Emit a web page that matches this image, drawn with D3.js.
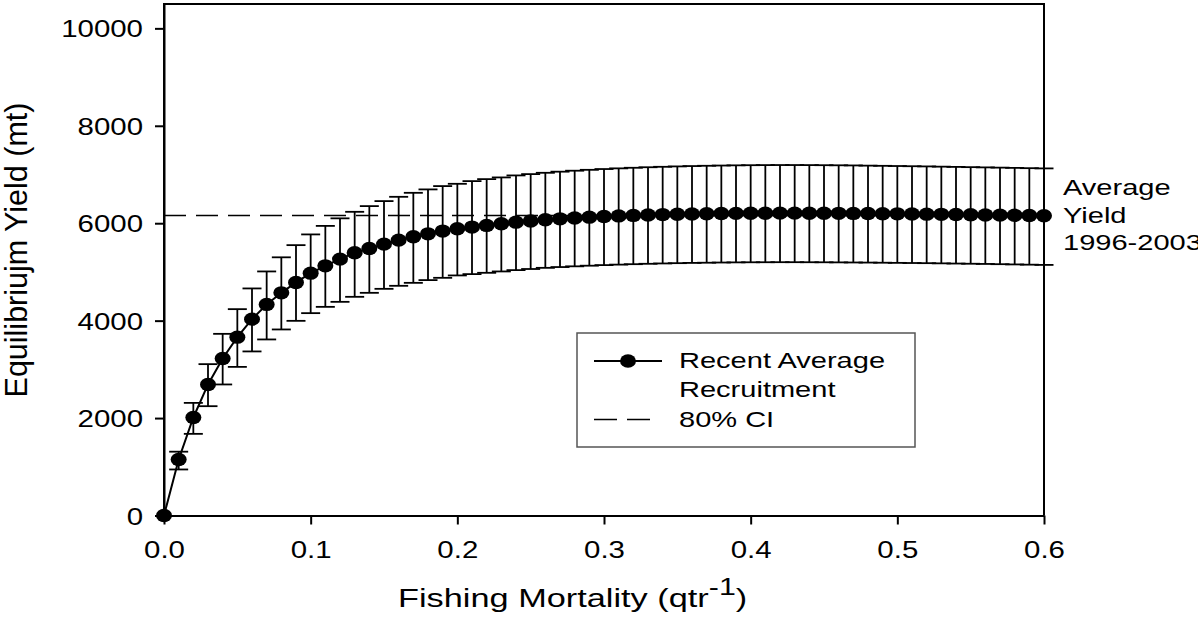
<!DOCTYPE html>
<html>
<head>
<meta charset="utf-8">
<script src="https://cdn.jsdelivr.net/npm/d3@7"></script>
<style>
  html, body { margin: 0; background: #fff; }
  svg { display: block; font-family: "Liberation Sans", Arial, sans-serif; }
</style>
</head>
<body>
<svg id="chart" width="1198" height="628"></svg>
<script>
// values
const fishingMortality = [
  0.00, 0.01, 0.02, 0.03, 0.04, 0.05, 0.06, 0.07, 0.08, 0.09,
  0.10, 0.11, 0.12, 0.13, 0.14, 0.15, 0.16, 0.17, 0.18, 0.19,
  0.20, 0.21, 0.22, 0.23, 0.24, 0.25, 0.26, 0.27, 0.28, 0.29,
  0.30, 0.31, 0.32, 0.33, 0.34, 0.35, 0.36, 0.37, 0.38, 0.39,
  0.40, 0.41, 0.42, 0.43, 0.44, 0.45, 0.46, 0.47, 0.48, 0.49,
  0.50, 0.51, 0.52, 0.53, 0.54, 0.55, 0.56, 0.57, 0.58, 0.59,
  0.60
];
const yieldMean = [
  0, 1150, 2012, 2690, 3224, 3661, 4031, 4333, 4571, 4784,
  4975, 5125, 5263, 5395, 5482, 5571, 5653, 5721, 5782, 5838,
  5885, 5920, 5955, 5988, 6022, 6045, 6070, 6090, 6108, 6124,
  6138, 6150, 6160, 6169, 6177, 6184, 6190, 6195, 6199, 6202,
  6204, 6206, 6207, 6207, 6206, 6205, 6203, 6201, 6198, 6195,
  6192, 6189, 6186, 6182, 6178, 6174, 6170, 6166, 6162, 6157,
  6152
];
const yieldUpper = [
  0, 1310, 2312, 3107, 3729, 4236, 4661, 5010, 5300, 5550,
  5770, 5945, 6100, 6234, 6351, 6454, 6542, 6624, 6694, 6762,
  6809, 6864, 6905, 6940, 6981, 7008, 7035, 7058, 7078, 7096,
  7112, 7126, 7138, 7149, 7158, 7166, 7173, 7179, 7184, 7188,
  7191, 7193, 7194, 7194, 7193, 7191, 7189, 7186, 7182, 7178,
  7174, 7170, 7166, 7161, 7156, 7151, 7146, 7141, 7136, 7130,
  7125
];
const yieldLower = [
  0, 945, 1676, 2244, 2690, 3051, 3368, 3614, 3819, 3996,
  4154, 4283, 4386, 4489, 4571, 4653, 4715, 4776, 4832, 4879,
  4928, 4955, 4982, 5010, 5037, 5060, 5084, 5100, 5115, 5128,
  5140, 5150, 5159, 5167, 5174, 5180, 5185, 5189, 5193, 5196,
  5198, 5199, 5200, 5200, 5199, 5198, 5196, 5194, 5192, 5189,
  5186, 5183, 5180, 5176, 5172, 5168, 5164, 5159, 5154, 5149,
  5144
];
const averageYield = 6160;
const xTicks = [0, 0.1, 0.2, 0.3, 0.4, 0.5, 0.6];
const yTicks = [0, 2000, 4000, 6000, 8000, 10000];
const annotationLines = ["Average", "Yield", "1996-2003"];
const legendLabels = ["Recent Average", "Recruitment", "80% CI"];

const SX = 1.32; // the reference text is drawn wide
const svg = d3.select("#chart");

const x = d3.scaleLinear().domain([0, 0.6]).range([164, 1044]);
const y = d3.scaleLinear().domain([0, 10500]).range([515.5, 4]);

const points = fishingMortality.map((f, i) => ({
  f, mean: yieldMean[i], hi: yieldUpper[i], lo: yieldLower[i]
}));

function wideText(g, px, py, str, size, sx = SX) {
  return g.append("text")
    .attr("transform", `translate(${px},${py}) scale(${sx},1)`)
    .attr("font-size", size)
    .attr("fill", "#000")
    .text(str);
}

// frame
svg.append("path")
  .attr("d", `M${x(0)},${y(0)}V${y(10500)}H${x(0.6)}V${y(0)}`)
  .attr("fill", "none").attr("stroke", "#000").attr("stroke-width", 2);

// axes
const xAxis = svg.append("g")
  .attr("transform", `translate(0,${y(0)})`)
  .call(d3.axisBottom(x).tickValues(xTicks).tickFormat(d3.format(".1f")).tickSize(9).tickSizeOuter(0));
const yAxis = svg.append("g")
  .attr("transform", `translate(${x(0)},0)`)
  .call(d3.axisLeft(y).tickValues(yTicks).tickFormat(d3.format("d")).tickSize(9).tickSizeOuter(0));

[xAxis, yAxis].forEach((g) => {
  g.select(".domain").attr("stroke-width", 2);
  g.selectAll(".tick line").attr("stroke-width", 2);
  g.selectAll("text").attr("font-size", 23).attr("fill", "#000")
    .attr("font-family", "Liberation Sans, Arial, sans-serif");
});
xAxis.selectAll("text").attr("y", 0).attr("dy", null)
  .attr("transform", `translate(0,42) scale(1.28,1)`);
yAxis.selectAll("text").attr("x", 0).attr("dy", null)
  .attr("transform", `translate(-21,8.5) scale(1.28,1)`);

// average yield line
svg.append("line")
  .attr("x1", x(0)).attr("x2", x(0.6))
  .attr("y1", y(averageYield)).attr("y2", y(averageYield))
  .attr("stroke", "#000").attr("stroke-width", 1.5)
  .attr("stroke-dasharray", "22,10");

// error bars
const bars = svg.append("g").attr("stroke", "#000").attr("stroke-width", 1.8);
const withCI = points.filter((d) => d.hi > d.lo);
bars.selectAll("line.v").data(withCI).join("line").attr("class", "v")
  .attr("x1", (d) => x(d.f)).attr("x2", (d) => x(d.f))
  .attr("y1", (d) => y(d.hi)).attr("y2", (d) => y(d.lo));
bars.selectAll("line.cap-hi").data(withCI).join("line").attr("class", "cap-hi")
  .attr("x1", (d) => x(d.f) - 9.5).attr("x2", (d) => x(d.f) + 9.5)
  .attr("y1", (d) => y(d.hi)).attr("y2", (d) => y(d.hi));
bars.selectAll("line.cap-lo").data(withCI).join("line").attr("class", "cap-lo")
  .attr("x1", (d) => x(d.f) - 9.5).attr("x2", (d) => x(d.f) + 9.5)
  .attr("y1", (d) => y(d.lo)).attr("y2", (d) => y(d.lo));

// curve and points
svg.append("path")
  .datum(points)
  .attr("d", d3.line().x((d) => x(d.f)).y((d) => y(d.mean)))
  .attr("fill", "none").attr("stroke", "#000").attr("stroke-width", 2);
svg.append("g").selectAll("ellipse").data(points).join("ellipse")
  .attr("cx", (d) => x(d.f)).attr("cy", (d) => y(d.mean))
  .attr("rx", 8).attr("ry", 6.7).attr("fill", "#000");

// legend
const legend = svg.append("g");
legend.append("rect")
  .attr("x", 577).attr("y", 333).attr("width", 338).attr("height", 114)
  .attr("fill", "#fff").attr("stroke", "#555").attr("stroke-width", 1.5);
legend.append("line").attr("x1", 594).attr("x2", 662).attr("y1", 361).attr("y2", 361)
  .attr("stroke", "#000").attr("stroke-width", 2);
legend.append("ellipse").attr("cx", 628).attr("cy", 361).attr("rx", 8).attr("ry", 6.7).attr("fill", "#000");
legend.append("line").attr("x1", 594).attr("x2", 650).attr("y1", 419.5).attr("y2", 419.5)
  .attr("stroke", "#000").attr("stroke-width", 1.5).attr("stroke-dasharray", "23,10");
wideText(legend, 679, 368, legendLabels[0], 22);
wideText(legend, 679, 397, legendLabels[1], 22);
wideText(legend, 679, 427, legendLabels[2], 22);

// annotation on the right (the reference clips the last line at the edge)
annotationLines.forEach((t, i) => wideText(svg, 1063, 195 + i * 27.7, t, 22));

// axis titles
const xt = wideText(svg, 398, 607, "Fishing Mortality (qtr", 26);
xt.append("tspan").attr("dy", -12).attr("font-size", 23).text("-1");
xt.append("tspan").attr("dy", 12).text(")");

svg.append("text")
  .attr("transform", `translate(27,250) rotate(-90)`)
  .attr("text-anchor", "middle")
  .attr("font-size", 30.5)
  .attr("fill", "#000")
  .text("Equilibriujm Yield (mt)");
</script>
</body>
</html>
